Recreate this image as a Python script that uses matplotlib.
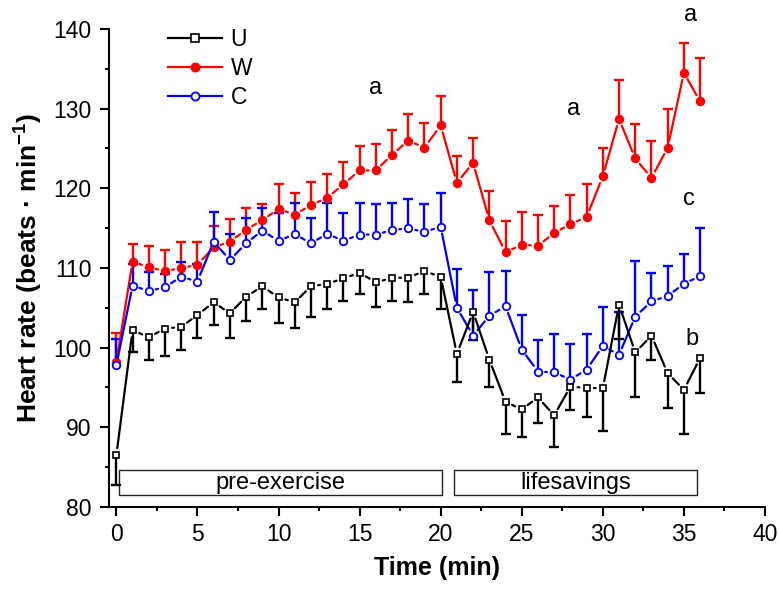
import numpy as np
import matplotlib.pyplot as plt
from matplotlib.lines import Line2D
from matplotlib.patches import Rectangle

plt.rcParams['font.family'] = ['Liberation Sans', 'DejaVu Sans']
plt.rcParams['mathtext.fontset'] = 'custom'
plt.rcParams['mathtext.bf'] = 'Liberation Sans:bold'
plt.rcParams['mathtext.default'] = 'bf'

# time (min)
t = np.arange(0, 37)

# U group (mean, lower SEM)
u_mean = [86.5, 102.2, 101.3, 102.4, 102.6, 104.1, 105.7, 104.3, 106.4, 107.7,
          106.3, 105.7, 107.7, 108.0, 108.7, 109.4, 108.2, 108.75, 108.8, 109.6,
          108.9, 99.2, 104.5, 98.5, 93.2, 92.25, 93.75, 91.5, 95.1, 94.95,
          94.9, 105.4, 99.4, 101.5, 96.8, 94.7, 98.7]
u_err = [3.7, 2.7, 2.9, 3.4, 2.85, 2.85, 2.8, 3.05, 3.1, 2.9,
         3.2, 3.2, 3.8, 3.1, 2.9, 2.7, 3.1, 2.95, 3.1, 2.85,
         4.1, 3.5, 3.5, 3.5, 4.0, 3.45, 3.25, 4.0, 2.9, 3.7,
         5.4, 4.3, 5.6, 3.1, 4.4, 5.6, 4.45]

# W group (mean, upper SEM)
w_mean = [98.2, 110.8, 110.1, 109.6, 110.0, 110.4, 112.6, 113.3, 114.8, 116.0,
          117.4, 116.7, 117.9, 118.8, 120.5, 122.25, 122.25, 124.2, 126.0, 125.1,
          127.9, 120.7, 123.2, 116.0, 112.0, 112.9, 112.8, 114.4, 115.5, 116.4,
          121.5, 128.7, 123.75, 121.3, 125.1, 134.5, 130.9]
w_err = [3.7, 2.2, 2.6, 2.7, 3.3, 2.8, 2.7, 2.8, 2.7, 2.0,
         3.1, 2.7, 2.9, 2.95, 2.8, 3.05, 3.35, 3.1, 3.3, 3.1,
         3.7, 3.4, 3.1, 3.7, 3.9, 4.1, 3.8, 3.4, 3.6, 4.2,
         3.6, 4.9, 4.35, 4.7, 4.8, 3.8, 5.4]

# C group (mean, upper SEM)
c_mean = [97.8, 107.8, 107.1, 107.6, 108.9, 108.3, 113.3, 111.0, 113.1, 114.7,
          113.4, 114.25, 113.1, 114.3, 113.4, 114.2, 114.2, 114.75, 115.0, 114.5,
          115.2, 105.0, 101.5, 104.0, 105.2, 99.75, 97.0, 96.9, 96.0, 97.25,
          100.2, 99.1, 103.9, 105.8, 106.5, 108.0, 109.0]
c_err = [3.3, 2.7, 2.4, 1.7, 1.8, 2.2, 3.7, 3.3, 3.2, 2.8,
         3.5, 3.85, 3.2, 3.8, 3.5, 3.9, 3.8, 3.45, 3.7, 3.5,
         4.25, 4.9, 5.75, 5.5, 4.4, 4.35, 4.0, 4.85, 4.4, 4.5,
         4.9, 5.4, 7.0, 3.6, 3.8, 3.8, 6.0]

# significance letters
letters = ['a', 'a', 'a', 'c', 'b']
letter_x = [16.0, 28.2, 35.4, 35.3, 35.5]
letter_y = [132.6, 129.9, 141.8, 118.6, 101.1]

fig = plt.figure(figsize=(7.79, 5.94), dpi=100)
ax = fig.add_axes([0.1400, 0.1465, 0.8420, 0.8047])


def gapped_line(x, y, color):
    # Origin-style line that stops short of each symbol
    for i in range(len(x) - 1):
        ax.annotate('', xy=(x[i + 1], y[i + 1]), xytext=(x[i], y[i]),
                    arrowprops=dict(arrowstyle='-', color=color, lw=1.6,
                                    shrinkA=5.2, shrinkB=5.2))


def one_sided_err(x, y, err, color, up=True):
    y = np.asarray(y)
    err = np.asarray(err)
    end = y + err if up else y - err
    ax.vlines(x, y, end, color=color, lw=1.7, zorder=2)
    ax.plot(x, end, ls='none', marker='_', ms=7, mew=1.7, color=color, zorder=2)


# W
gapped_line(t, w_mean, 'red')
one_sided_err(t, w_mean, w_err, 'red', up=True)
ax.plot(t, w_mean, ls='none', marker='o', ms=5.8, mfc='red', mec='red', zorder=3)
# C
gapped_line(t, c_mean, 'blue')
one_sided_err(t, c_mean, c_err, 'blue', up=True)
ax.plot(t, c_mean, ls='none', marker='o', ms=5.4, mfc='white', mec='blue', mew=1.3, zorder=3)
# U
gapped_line(t, u_mean, 'black')
one_sided_err(t, u_mean, u_err, 'black', up=False)
ax.plot(t, u_mean, ls='none', marker='s', ms=4.9, mfc='white', mec='black', mew=1.2, zorder=3)

for s, lx, ly in zip(letters, letter_x, letter_y):
    ax.text(lx, ly, s, fontsize=17, ha='center', va='center', clip_on=False)

# phase boxes
ax.add_patch(Rectangle((0.19, 81.5), 19.87, 3.1, fill=False, ec='#222222', lw=1))
ax.text(10.1, 83.05, 'pre-exercise', fontsize=17, ha='center', va='center')
ax.add_patch(Rectangle((20.8, 81.5), 15.0, 3.1, fill=False, ec='#222222', lw=1))
ax.text(28.3, 83.05, 'lifesavings', fontsize=17, ha='center', va='center')

ax.set_xlim(-0.45, 40)
ax.set_ylim(80, 140)
ax.set_xticks(np.arange(0, 41, 5))
ax.set_xticks(np.arange(2.5, 40, 5), minor=True)
ax.set_yticks(np.arange(80, 141, 10))
ax.set_yticks(np.arange(85, 140, 10), minor=True)
ax.tick_params(which='major', direction='out', length=6.5, width=1.5, labelsize=16.5)
ax.tick_params(which='minor', direction='out', length=3, width=1.5)
ax.tick_params(axis='y', which='major', pad=6)
ax.tick_params(axis='x', which='major', pad=5)
for side in ['top', 'right']:
    ax.spines[side].set_visible(False)
for side in ['left', 'bottom']:
    ax.spines[side].set_linewidth(1.5)

ax.set_xlabel('Time (min)', fontsize=18, fontweight='bold', labelpad=7)
ax.set_ylabel('Heart rate (beats \u00b7 min$^{-1}$)', fontsize=19,
              fontweight='bold', labelpad=6)

handles = [
    Line2D([], [], color='black', marker='s', ms=5.2, mfc='white', mec='black', mew=1.2, lw=1.6),
    Line2D([], [], color='red', marker='o', ms=6.2, mfc='red', mec='red', lw=1.6),
    Line2D([], [], color='blue', marker='o', ms=5.8, mfc='white', mec='blue', mew=1.3, lw=1.6),
]
ax.legend(handles, ['U', 'W', 'C'], loc='upper left', bbox_to_anchor=(0.058, 1.045),
          frameon=False, fontsize=16.5, handlelength=2.35, labelspacing=0.25,
          handletextpad=0.4)

fig.savefig('out.png', dpi=100)
